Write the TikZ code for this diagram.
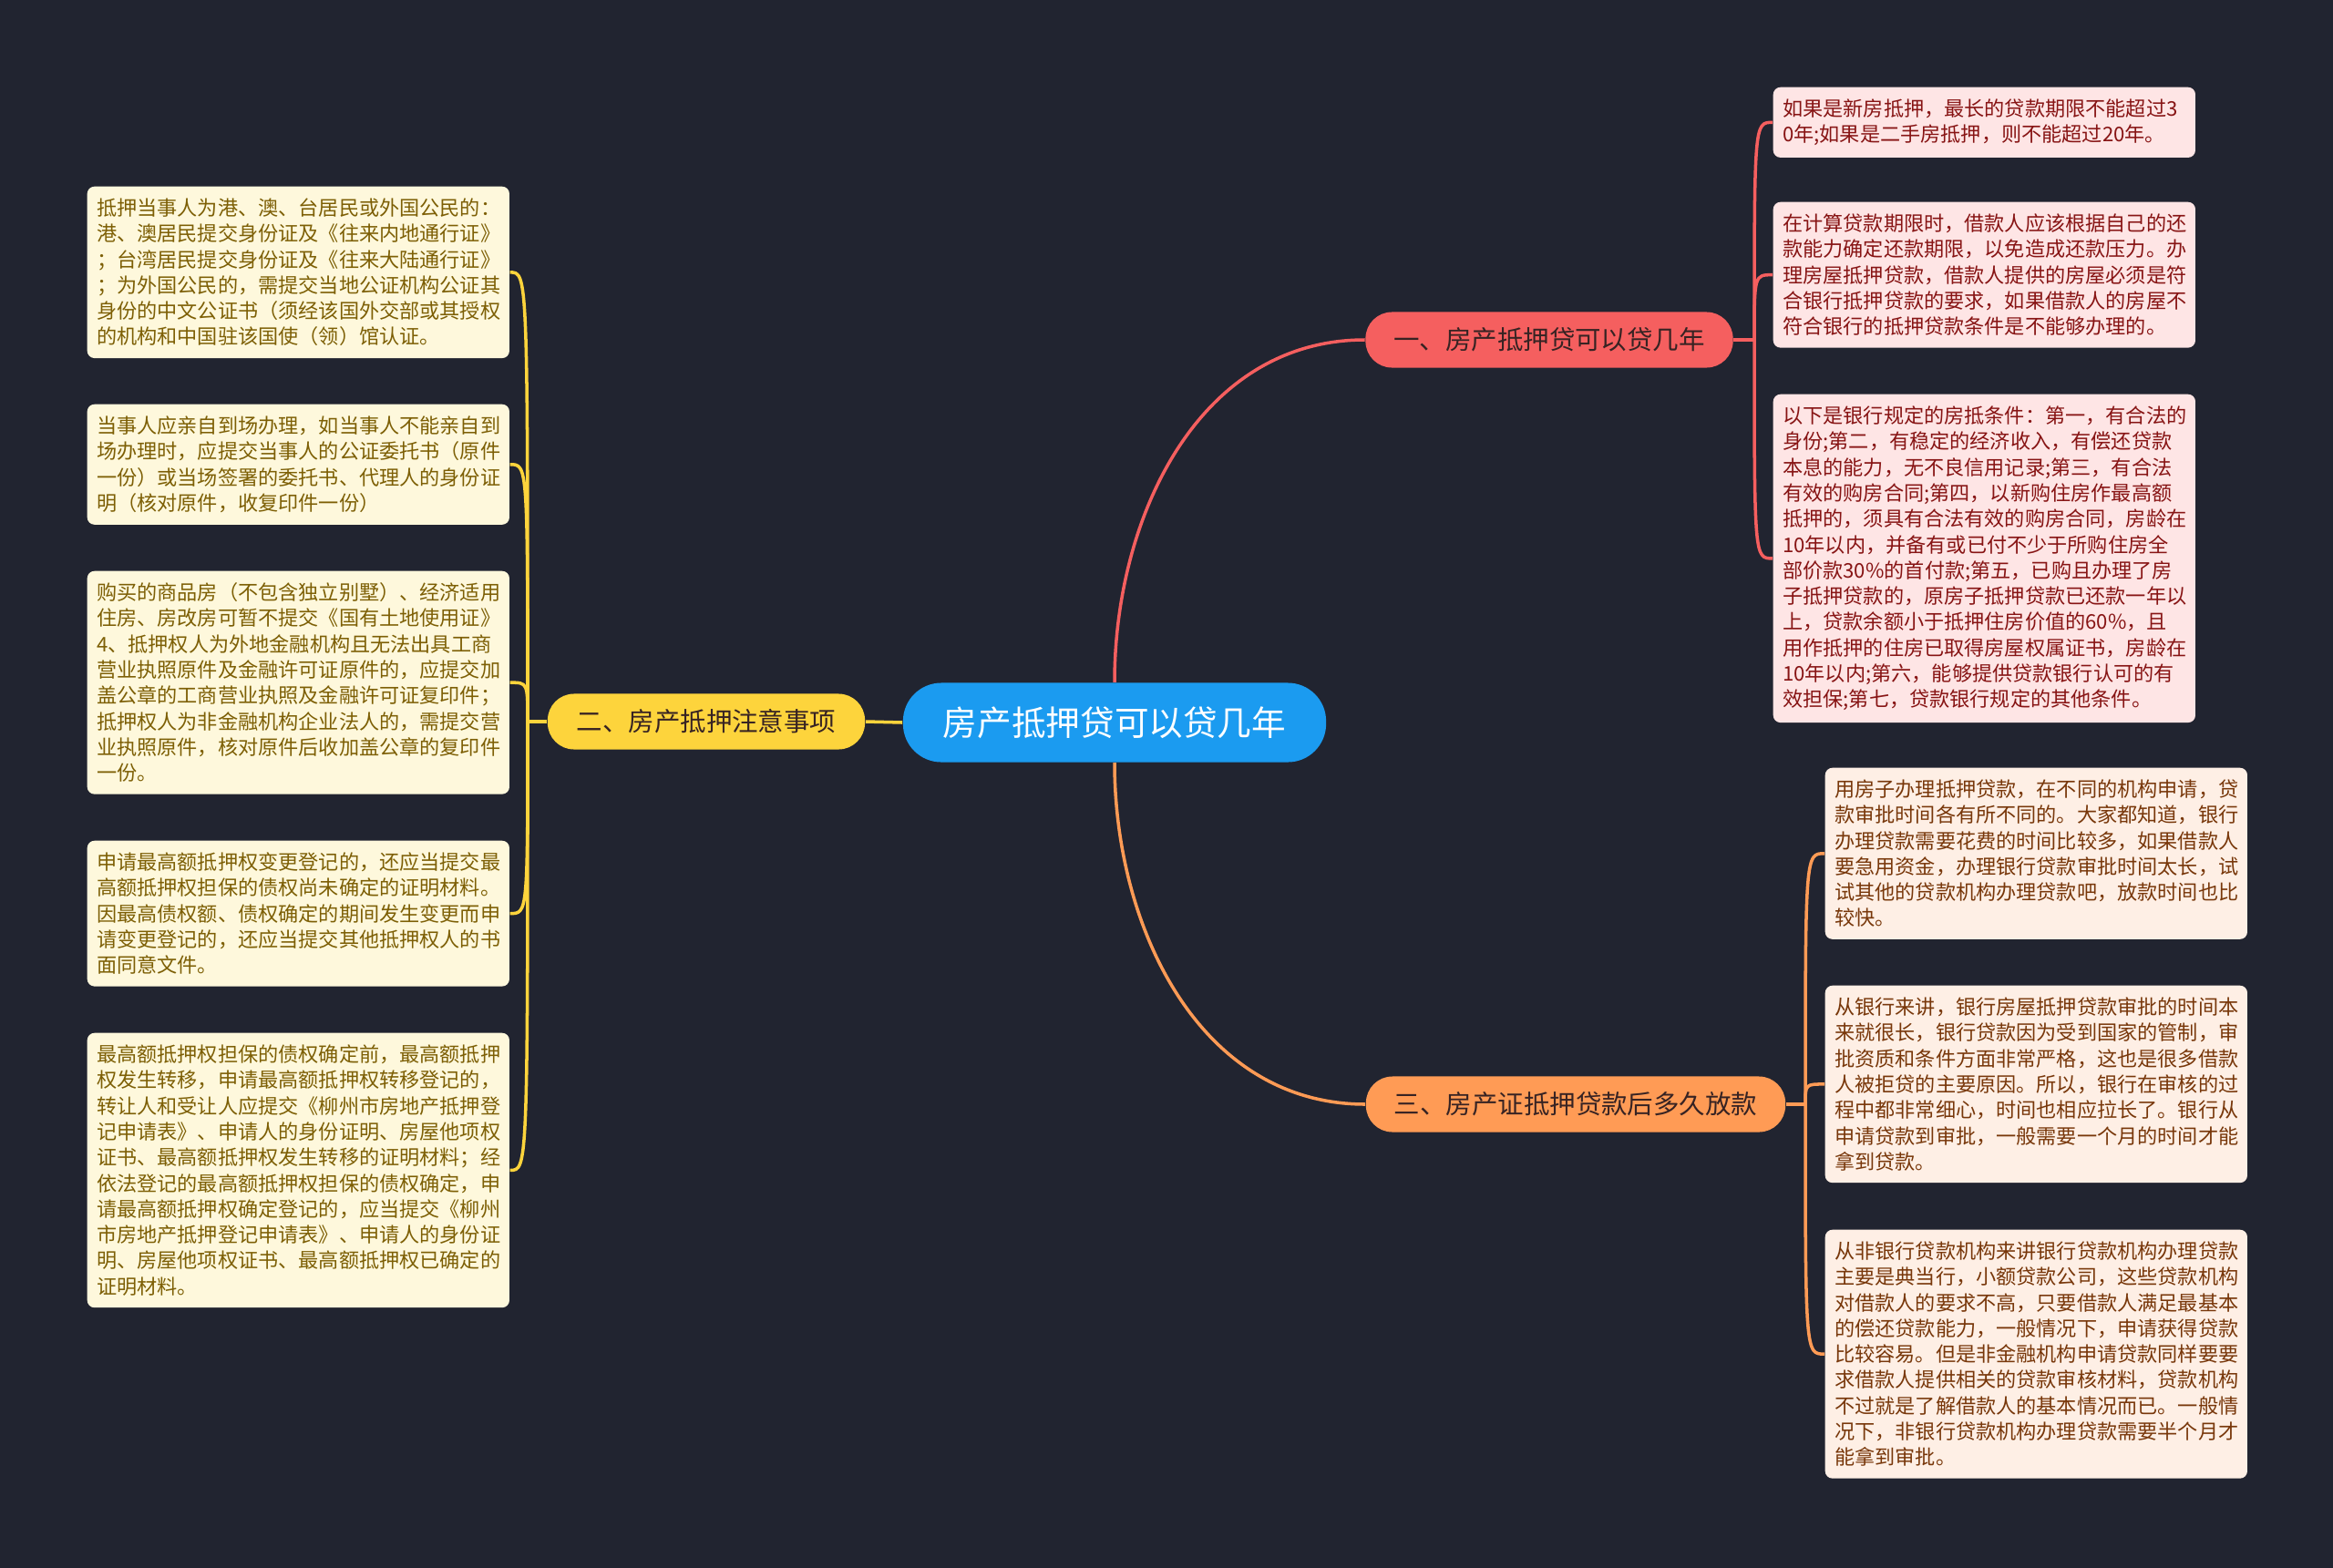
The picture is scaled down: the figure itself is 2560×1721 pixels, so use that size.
\documentclass[tikz,border=0pt]{standalone}
\usepackage{fontspec}
\newfontfamily\cjk{Noto Sans CJK SC}
\usetikzlibrary{positioning}
\definecolor{bgc}{RGB}{33,36,48}
\definecolor{rootc}{RGB}{27,155,240}
\definecolor{redc}{RGB}{245,95,95}
\definecolor{yelc}{RGB}{253,212,60}
\definecolor{orac}{RGB}{255,155,85}
\definecolor{brtxt}{RGB}{55,35,35}
\definecolor{redfill}{RGB}{254,229,229}
\definecolor{redtxt}{RGB}{135,20,20}
\definecolor{yelfill}{RGB}{254,248,220}
\definecolor{yeltxt}{RGB}{125,95,5}
\definecolor{orafill}{RGB}{254,239,229}
\definecolor{oratxt}{RGB}{120,55,10}

\begin{document}
\begin{tikzpicture}[x=0.01cm,y=-0.01cm,
  rt/.style={rounded corners=0.42cm,fill=rootc,text=white,minimum width=4.64cm,
    minimum height=0.87cm,font=\cjk\fontsize{10.7}{12}\selectfont},
  br/.style={rounded corners=0.29cm,minimum height=0.61cm,text=brtxt,
    font=\cjk\fontsize{8.1}{10}\selectfont},
  leaf/.style={anchor=north west,rounded corners=0.08cm,text width=4.42cm,
    inner xsep=0.105cm,inner ysep=0.13cm,align=left,
    font=\cjk\fontsize{6.3}{8.05}\selectfont},
  lfr/.style={leaf,fill=redfill,text=redtxt},
  lfy/.style={leaf,fill=yelfill,text=yeltxt},
  lfo/.style={leaf,fill=orafill,text=oratxt},
  lnr/.style={draw=redc,line width=1pt},
  lny/.style={draw=yelc,line width=1pt},
  lno/.style={draw=orac,line width=1pt}
]
\fill[bgc] (0,0) rectangle (2560,1721);
\useasboundingbox (0,0) rectangle (2560,1721);

\node[rt] (root) at (1223,793) {房产抵押贷可以贷几年};
\node[br,fill=redc,minimum width=4.03cm] (b1) at (1700,373) {一、房产抵押贷可以贷几年};
\node[br,fill=yelc,minimum width=3.48cm] (b2) at (775,792) {二、房产抵押注意事项};
\node[br,fill=orac,minimum width=4.60cm] (b3) at (1729,1212) {三、房产证抵押贷款后多久放款};

\node[lfr] (lf1a) at (1945,95) {如果是新房抵押，最长的贷款期限不能超过3\\
0年;如果是二手房抵押，则不能超过20年。};
\node[lfr] (lf1b) at (1945,221) {在计算贷款期限时，借款人应该根据自己的还\\
款能力确定还款期限，以免造成还款压力。办\\
理房屋抵押贷款，借款人提供的房屋必须是符\\
合银行抵押贷款的要求，如果借款人的房屋不\\
符合银行的抵押贷款条件是不能够办理的。};
\node[lfr] (lf1c) at (1945,432) {以下是银行规定的房抵条件：第一，有合法的\\
身份;第二，有稳定的经济收入，有偿还贷款\\
本息的能力，无不良信用记录;第三，有合法\\
有效的购房合同;第四，以新购住房作最高额\\
抵押的，须具有合法有效的购房合同，房龄在\\
10年以内，并备有或已付不少于所购住房全\\
部价款30\%的首付款;第五，已购且办理了房\\
子抵押贷款的，原房子抵押贷款已还款一年以\\
上，贷款余额小于抵押住房价值的60\%，且\\
用作抵押的住房已取得房屋权属证书，房龄在\\
10年以内;第六，能够提供贷款银行认可的有\\
效担保;第七，贷款银行规定的其他条件。};

\node[lfy] (lf2a) at (95,204) {抵押当事人为港、澳、台居民或外国公民的：\\
港、澳居民提交身份证及《往来内地通行证》\\
；台湾居民提交身份证及《往来大陆通行证》\\
；为外国公民的，需提交当地公证机构公证其\\
身份的中文公证书（须经该国外交部或其授权\\
的机构和中国驻该国使（领）馆认证。};
\node[lfy] (lf2b) at (95,443) {当事人应亲自到场办理，如当事人不能亲自到\\
场办理时，应提交当事人的公证委托书（原件\\
一份）或当场签署的委托书、代理人的身份证\\
明（核对原件，收复印件一份）};
\node[lfy] (lf2c) at (95,626) {购买的商品房（不包含独立别墅）、经济适用\\
住房、房改房可暂不提交《国有土地使用证》\\
4、抵押权人为外地金融机构且无法出具工商\\
营业执照原件及金融许可证原件的，应提交加\\
盖公章的工商营业执照及金融许可证复印件；\\
抵押权人为非金融机构企业法人的，需提交营\\
业执照原件，核对原件后收加盖公章的复印件\\
一份。};
\node[lfy] (lf2d) at (95,922) {申请最高额抵押权变更登记的，还应当提交最\\
高额抵押权担保的债权尚未确定的证明材料。\\
因最高债权额、债权确定的期间发生变更而申\\
请变更登记的，还应当提交其他抵押权人的书\\
面同意文件。};
\node[lfy] (lf2e) at (95,1133) {最高额抵押权担保的债权确定前，最高额抵押\\
权发生转移，申请最高额抵押权转移登记的，\\
转让人和受让人应提交《柳州市房地产抵押登\\
记申请表》、申请人的身份证明、房屋他项权\\
证书、最高额抵押权发生转移的证明材料；经\\
依法登记的最高额抵押权担保的债权确定，申\\
请最高额抵押权确定登记的，应当提交《柳州\\
市房地产抵押登记申请表》、申请人的身份证\\
明、房屋他项权证书、最高额抵押权已确定的\\
证明材料。};

\node[lfo] (lf3a) at (2002,842) {用房子办理抵押贷款，在不同的机构申请，贷\\
款审批时间各有所不同的。大家都知道，银行\\
办理贷款需要花费的时间比较多，如果借款人\\
要急用资金，办理银行贷款审批时间太长，试\\
试其他的贷款机构办理贷款吧，放款时间也比\\
较快。};
\node[lfo] (lf3b) at (2002,1081) {从银行来讲，银行房屋抵押贷款审批的时间本\\
来就很长，银行贷款因为受到国家的管制，审\\
批资质和条件方面非常严格，这也是很多借款\\
人被拒贷的主要原因。所以，银行在审核的过\\
程中都非常细心，时间也相应拉长了。银行从\\
申请贷款到审批，一般需要一个月的时间才能\\
拿到贷款。};
\node[lfo] (lf3c) at (2002,1349) {从非银行贷款机构来讲银行贷款机构办理贷款\\
主要是典当行，小额贷款公司，这些贷款机构\\
对借款人的要求不高，只要借款人满足最基本\\
的偿还贷款能力，一般情况下，申请获得贷款\\
比较容易。但是非金融机构申请贷款同样要要\\
求借款人提供相关的贷款审核材料，贷款机构\\
不过就是了解借款人的基本情况而已。一般情\\
况下，非银行贷款机构办理贷款需要半个月才\\
能拿到审批。};

\coordinate (j1) at (1925,373);
\coordinate (j2) at (579,792);
\coordinate (j3) at (1981,1212);

\draw[lnr] (root.north) to[out=90,in=180] (b1.west);
\draw[lny] (root.west) -- (b2.east);
\draw[lno] (root.south) to[out=-90,in=180] (b3.west);

\draw[lnr] (b1.east) -- (j1);
\draw[lnr] (j1) .. controls (j1 |- lf1a.west) .. (lf1a.west);
\draw[lnr] (j1) .. controls (j1 |- lf1b.west) .. (lf1b.west);
\draw[lnr] (j1) .. controls (j1 |- lf1c.west) .. (lf1c.west);

\draw[lny] (b2.west) -- (j2);
\draw[lny] (j2) .. controls (j2 |- lf2a.east) .. (lf2a.east);
\draw[lny] (j2) .. controls (j2 |- lf2b.east) .. (lf2b.east);
\draw[lny] (j2) .. controls (j2 |- lf2c.east) .. (lf2c.east);
\draw[lny] (j2) .. controls (j2 |- lf2d.east) .. (lf2d.east);
\draw[lny] (j2) .. controls (j2 |- lf2e.east) .. (lf2e.east);

\draw[lno] (b3.east) -- (j3);
\draw[lno] (j3) .. controls (j3 |- lf3a.west) .. (lf3a.west);
\draw[lno] (j3) .. controls (j3 |- lf3b.west) .. (lf3b.west);
\draw[lno] (j3) .. controls (j3 |- lf3c.west) .. (lf3c.west);
\end{tikzpicture}
\end{document}
